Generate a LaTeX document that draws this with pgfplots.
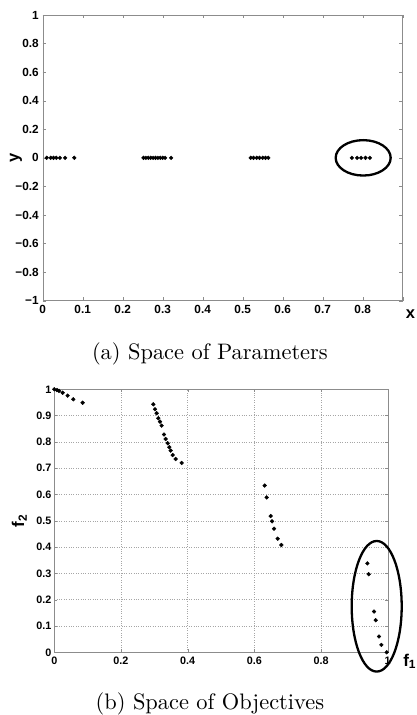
\documentclass[border=0pt]{standalone}
\usepackage{fontspec}
\usepackage{pgfplots}
\pgfplotsset{compat=1.18}
\newfontfamily\axfont{Liberation Sans}
\newfontfamily\capfont{lmroman10-regular.otf}
\begin{document}
\begin{tikzpicture}
\path[use as bounding box] (0pt,0pt) rectangle (417pt,715pt);
% ---------- (a) Space of Parameters ----------
\begin{axis}[
  at={(42.7pt,414.3pt)}, anchor=south west, scale only axis,
  width=360pt, height=285.7pt,
  xmin=0, xmax=0.9, ymin=-1, ymax=1,
  xtick={0,0.1,0.2,0.3,0.4,0.5,0.6,0.7,0.8,0.9},
  xticklabels={0,0.1,0.2,0.3,0.4,0.5,0.6,0.7,0.8,{}},
  ytick={-1,-0.8,-0.6,-0.4,-0.2,0,0.2,0.4,0.6,0.8,1},
  yticklabels={−1,−0.8,−0.6,−0.4,−0.2,0,0.2,0.4,0.6,0.8,1},
  tick align=inside, major tick length=3.5pt,
  axis line style={black!45}, tick style={black!45},
  ticklabel style={font=\axfont\bfseries\fontsize{11.8}{12}\selectfont, text=black},
  xticklabel style={yshift=-1pt},
  yticklabel style={xshift=-0.5pt},
  clip=false,
]
\addplot[only marks, mark=*, mark size=1.9pt, black] coordinates {
(0.010,0) (0.020,0) (0.027,0) (0.034,0) (0.043,0) (0.056,0) (0.079,0)
(0.252,0) (0.258,0) (0.264,0) (0.270,0) (0.276,0) (0.282,0) (0.288,0) (0.294,0) (0.300,0) (0.306,0) (0.321,0)
(0.520,0) (0.527,0) (0.535,0) (0.542,0) (0.550,0) (0.557,0) (0.564,0)
(0.773,0) (0.786,0) (0.796,0) (0.807,0) (0.818,0)
};
\draw[line width=2.3pt, black] (axis cs:0.8012,0) ellipse [x radius=27.5pt, y radius=17.7pt];
\node[font=\axfont\bfseries\fontsize{16.5}{16}\selectfont, rotate=90] at ([xshift=-26.7pt]rel axis cs:0,0.5) {y};
\node[font=\axfont\bfseries\fontsize{16.5}{16}\selectfont] at ([xshift=7.8pt,yshift=-13.5pt]rel axis cs:1,0) {x};
\end{axis}
\node[font=\capfont\fontsize{22.4}{26}\selectfont, anchor=base] at (209.9pt,355pt) {(a) Space of Parameters};
% ---------- (b) Space of Objectives ----------
\begin{axis}[
  at={(54.3pt,62.7pt)}, anchor=south west, scale only axis,
  width=333.4pt, height=263pt,
  xmin=0, xmax=1, ymin=0, ymax=1,
  xtick={0,0.2,0.4,0.6,0.8,1},
  xticklabels={0,0.2,0.4,0.6,0.8,1},
  ytick={0,0.1,0.2,0.3,0.4,0.5,0.6,0.7,0.8,0.9,1},
  yticklabels={0,0.1,0.2,0.3,0.4,0.5,0.6,0.7,0.8,0.9,1},
  grid=major, major grid style={dotted, black!35},
  tick align=inside, major tick length=3pt,
  axis line style={black!45}, tick style={black!45},
  ticklabel style={font=\axfont\bfseries\fontsize{10.8}{11}\selectfont, text=black},
  xticklabel style={yshift=-1pt},
  yticklabel style={xshift=0.5pt},
  clip=false,
]
\addplot[only marks, mark=*, mark size=1.9pt, black] coordinates {
(0.000,1.000) (0.008,0.997) (0.014,0.994) (0.025,0.987) (0.040,0.976) (0.057,0.962) (0.085,0.949)
(0.297,0.943) (0.302,0.924) (0.307,0.909) (0.312,0.890) (0.317,0.877) (0.322,0.862)
(0.329,0.828) (0.334,0.811) (0.340,0.795) (0.345,0.780) (0.349,0.767) (0.355,0.750) (0.364,0.735) (0.382,0.720)
(0.631,0.634) (0.637,0.589) (0.649,0.518) (0.653,0.498) (0.659,0.470) (0.670,0.432) (0.681,0.408)
(0.939,0.338) (0.943,0.297) (0.959,0.155) (0.964,0.122) (0.974,0.060) (0.981,0.028) (0.997,0.000)
};
\draw[line width=2.3pt, black] (axis cs:0.967,0.175) ellipse [x radius=25pt, y radius=65.3pt];
\node[font=\axfont\bfseries\fontsize{17}{17}\selectfont, rotate=90] at ([xshift=-35pt]rel axis cs:0,0.5) {f\textsubscript{2}};
\node[font=\axfont\bfseries\fontsize{17}{17}\selectfont] at ([xshift=22pt,yshift=-9pt]rel axis cs:1,0) {f\textsubscript{1}};
\end{axis}
\node[font=\capfont\fontsize{22.4}{26}\selectfont, anchor=base] at (209.9pt,5.9pt) {(b) Space of Objectives};
\end{tikzpicture}
\end{document}
